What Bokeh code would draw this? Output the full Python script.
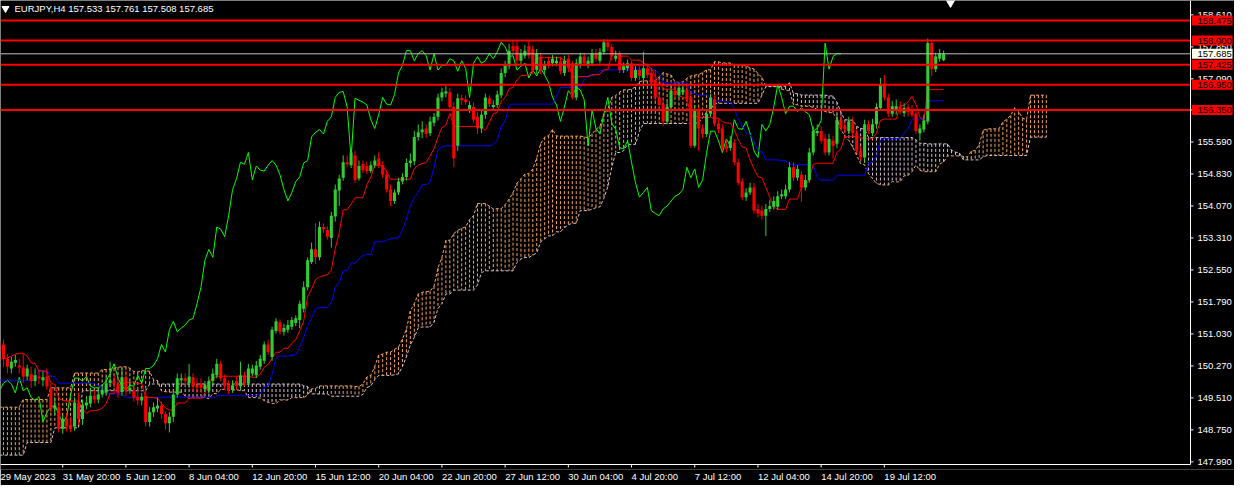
import numpy as np
from bokeh.plotting import figure
from bokeh.models import Range1d, FixedTicker, ColumnDataSource
from bokeh.core.properties import value
from bokeh.embed import file_html
from bokeh.resources import INLINE

open_ = [
150.85,150.78,150.44,150.21,150.34,150.28,150.23,150.02,150.07,149.91,
150.02,149.93,150.02,149.75,149.26,149.29,148.78,149.01,148.87,148.83,
149.40,149.01,149.33,149.38,149.56,149.47,149.59,149.63,149.86,149.91,
149.84,149.65,150.00,149.70,149.68,149.54,149.45,149.56,148.94,149.17,
149.26,149.33,149.13,148.91,149.06,149.59,149.93,149.98,149.86,150.00,
149.81,149.86,149.72,149.68,149.91,150.05,150.32,149.98,149.81,149.70,
149.91,149.79,150.05,149.86,150.09,150.05,150.25,150.39,150.78,150.48,
151.10,151.31,151.08,151.13,151.20,151.29,151.36,151.63,152.14,152.74,
153.04,152.85,153.57,153.50,153.31,153.82,154.44,154.74,155.11,155.04,
155.27,154.72,155.06,155.02,154.90,155.04,155.20,155.04,154.81,154.46,
154.19,154.39,154.65,154.76,155.09,155.13,155.71,155.82,155.91,155.80,
156.05,156.19,156.65,156.74,156.77,156.42,155.50,156.63,156.60,156.35,
156.42,156.19,155.91,156.24,156.63,156.42,156.47,156.70,157.23,157.39,
157.87,157.87,157.52,157.64,157.87,157.80,157.30,157.62,157.30,157.52,
157.46,157.46,157.50,157.23,157.57,157.46,156.65,157.43,157.62,157.41,
157.46,157.69,157.52,157.73,157.96,157.85,157.57,157.69,157.30,157.34,
157.46,157.11,157.30,157.11,157.34,157.23,157.06,156.65,156.49,156.08,
156.42,156.81,156.70,156.77,156.83,156.65,155.50,156.35,155.91,155.78,
156.26,156.60,156.03,155.91,155.50,155.45,155.57,155.11,154.65,154.28,
154.39,154.51,154.00,153.96,153.84,154.00,154.05,154.05,154.30,154.30,
154.46,154.99,154.74,154.81,154.51,154.69,155.34,155.80,155.85,155.68,
155.34,155.62,155.55,156.12,155.96,155.85,156.08,155.80,155.38,155.22,
156.01,155.80,156.01,156.40,156.95,156.65,156.26,156.35,156.44,156.28,
156.42,156.35,156.26,155.80,155.89,156.08,157.94,157.32,157.57,157.533]

high = [
150.94,150.90,150.55,150.48,150.53,150.44,150.55,150.30,150.25,150.21,
150.16,150.14,150.21,149.84,149.52,149.40,149.10,149.15,149.06,149.52,
149.63,149.47,149.56,149.75,149.68,149.75,149.84,150.02,150.37,150.09,
149.98,150.21,150.16,149.93,149.79,149.70,149.63,149.75,149.29,149.40,
149.52,149.42,149.19,149.17,149.70,150.09,150.09,150.09,150.32,150.09,
149.98,149.98,149.91,150.02,150.21,150.44,150.39,150.07,149.93,149.93,
150.02,150.37,150.14,150.32,150.30,150.39,150.53,150.85,150.90,151.20,
151.40,151.38,151.27,151.36,151.43,151.47,151.82,152.28,152.85,153.20,
153.66,153.70,153.66,153.59,153.93,154.58,154.81,155.27,155.27,155.45,
155.38,155.15,155.15,155.13,155.13,155.27,155.34,155.13,154.92,154.58,
154.46,154.74,154.85,155.20,155.32,155.85,156.01,156.08,156.01,156.19,
156.28,156.74,156.88,156.93,156.88,156.54,156.74,156.72,156.70,156.56,
156.54,156.31,156.33,156.74,156.70,156.58,156.81,157.34,157.52,157.92,
157.99,157.99,157.80,157.89,157.99,157.89,157.80,157.71,157.52,157.62,
157.66,157.62,157.62,157.64,157.66,157.52,157.57,157.71,157.71,157.62,
157.80,157.80,157.82,158.03,158.03,157.92,157.76,157.76,157.48,157.55,
157.52,157.39,157.39,157.73,157.43,157.34,157.30,156.74,156.65,156.54,
156.93,156.93,156.97,156.93,156.93,156.77,156.47,156.42,156.01,156.37,
156.74,156.70,156.14,156.01,155.62,155.73,155.66,155.20,154.74,154.49,
154.62,154.62,154.12,154.07,154.12,154.21,154.30,154.42,154.46,154.58,
155.11,155.11,155.04,154.90,154.81,155.45,155.96,156.01,155.96,155.78,
155.78,155.73,156.24,156.24,156.08,156.19,156.19,155.89,155.50,156.12,
156.10,156.14,156.51,157.11,157.18,156.74,156.56,156.60,156.56,156.51,
156.49,156.47,156.35,156.01,156.24,158.05,158.01,157.71,157.80,157.761]

low = [
150.53,150.25,150.09,150.09,150.25,150.09,149.86,149.93,149.75,149.79,
149.84,149.79,149.70,149.17,149.10,148.69,148.66,148.71,148.69,148.73,
148.87,148.87,149.24,149.29,149.38,149.38,149.52,149.56,149.79,149.75,
149.52,149.56,149.56,149.61,149.42,149.33,149.33,148.83,148.83,149.06,
149.17,149.01,148.76,148.69,148.94,149.52,149.84,149.79,149.75,149.65,
149.63,149.63,149.65,149.61,149.84,149.98,149.91,149.70,149.61,149.63,
149.70,149.70,149.79,149.79,150.02,149.98,150.18,150.32,150.53,150.39,
151.04,151.01,150.99,151.06,151.13,151.22,151.17,151.54,152.07,152.69,
152.69,152.78,153.43,153.27,153.08,153.70,154.07,154.67,154.99,154.97,
154.62,154.67,154.85,154.83,154.85,154.97,154.97,154.74,154.39,154.07,
154.12,154.33,154.58,154.67,154.99,155.04,155.62,155.68,155.68,155.73,
155.96,156.10,156.56,156.65,156.33,154.99,155.38,156.47,156.47,156.28,
156.05,155.78,155.80,156.14,156.42,156.35,156.40,156.63,157.13,157.32,
157.66,157.43,157.43,157.57,157.57,157.20,157.20,157.20,157.20,157.34,
157.39,157.39,157.20,157.16,157.25,156.60,156.58,157.34,157.39,157.34,
157.39,157.50,157.46,157.66,157.76,157.52,157.50,157.23,157.23,157.27,
157.04,157.04,157.06,157.04,157.11,156.93,156.56,156.37,155.96,156.01,
156.37,156.63,156.63,156.70,156.54,155.45,155.45,155.38,155.68,155.71,
156.19,155.96,155.80,155.38,155.34,155.38,155.04,154.56,154.21,154.19,
154.33,153.89,153.80,153.75,153.36,153.93,153.98,153.98,154.23,154.23,
154.39,154.67,154.67,154.16,154.44,154.62,155.27,155.73,155.55,155.27,
155.27,155.20,155.45,155.85,155.80,155.78,155.73,155.32,155.15,155.09,
155.78,155.73,155.91,156.33,156.58,156.19,156.19,156.24,156.24,156.19,
156.19,156.17,155.78,155.62,155.82,156.01,157.16,157.25,157.50,157.508]

close = [
150.62,150.44,150.25,150.37,150.41,150.23,150.02,150.21,149.91,150.05,
149.98,150.00,149.79,149.26,149.33,148.78,149.01,148.83,148.78,149.40,
149.01,149.35,149.40,149.56,149.47,149.59,149.68,149.86,149.93,149.84,
149.63,150.00,149.68,149.75,149.52,149.45,149.54,148.94,149.17,149.29,
149.33,149.13,148.91,149.06,149.59,149.98,149.98,149.91,150.02,149.79,
149.75,149.75,149.81,149.91,150.09,150.32,149.98,149.79,149.70,149.81,
149.79,150.05,149.86,150.21,150.21,150.28,150.44,150.78,150.60,151.13,
151.33,151.08,151.17,151.24,151.36,151.40,151.75,152.14,152.78,153.04,
152.85,153.57,153.52,153.34,153.84,154.46,154.72,155.11,155.06,155.34,
154.69,155.02,154.92,154.90,155.04,155.15,155.04,154.81,154.46,154.19,
154.39,154.65,154.76,155.09,155.15,155.71,155.82,155.89,155.78,156.08,
156.19,156.65,156.77,156.79,156.42,155.20,156.63,156.58,156.54,156.47,
156.12,155.91,156.24,156.65,156.49,156.47,156.72,157.23,157.41,157.76,
157.76,157.52,157.69,157.76,157.64,157.30,157.69,157.30,157.41,157.41,
157.57,157.52,157.27,157.52,157.34,156.65,157.46,157.62,157.46,157.52,
157.69,157.57,157.73,157.96,157.85,157.62,157.64,157.30,157.39,157.46,
157.11,157.30,157.16,157.34,157.18,157.00,156.65,156.47,156.08,156.42,
156.81,156.70,156.88,156.83,156.60,155.50,156.35,155.91,155.78,156.26,
156.65,156.03,155.89,155.45,155.43,155.62,155.11,154.62,154.28,154.39,
154.51,153.96,153.89,153.84,154.00,154.07,154.19,154.30,154.35,154.46,
154.99,154.74,154.95,154.51,154.69,155.34,155.85,155.85,155.62,155.34,
155.66,155.50,156.12,155.91,155.89,156.08,155.80,155.38,155.22,156.01,
155.85,156.01,156.42,156.95,156.65,156.26,156.44,156.44,156.31,156.40,
156.31,156.24,155.85,155.91,156.10,157.94,157.32,157.62,157.69,157.685]

# indicator values before enough history is visible
tenkan_early = [150.44,150.44,150.46,150.50,150.55,150.57,150.57,150.50]
kijun_early = [149.93,149.93,149.93,149.93,149.93,149.93,149.93,149.93,149.93,149.93,
               150.16,150.16,150.16,150.02,150.02,
               149.86,149.86,149.86,149.86,149.86,149.86,149.86,149.86,149.86,149.86]
span_a_early = [149.29,149.29,149.29,149.29,149.29,149.29,
                149.47,149.47,149.47,149.47,149.47,149.47,149.47,
                149.75,149.75,149.75,149.75,149.75,149.75,
                150.10,150.10,150.10,150.10,150.10,150.10,150.10]
span_b_early = [148.15,148.15,148.15,148.15,148.15,148.15,148.15,
                148.45,148.45,148.45,148.45,148.45,148.45,148.45,
                148.80,148.80,148.80,148.80,148.80,148.80,148.80,
                149.68,149.68,149.68,149.68,149.68,149.68,149.68,149.68,149.68,
                149.68,149.68,149.68,149.68,149.68,149.68,149.68,149.68,
                149.84,149.84,149.84,149.84,149.84,149.84,149.84,149.84,149.84,149.84,
                149.84,149.84,149.84,149.84,149.84,149.84,149.84,149.84,149.84,149.84,
                149.84,149.84,149.84,149.84,149.84,149.84,149.84,149.84,149.84,149.84,
                149.84,149.84,149.84,149.84,149.84,149.84,149.84,149.84,149.84]

levels = [158.475, 158.000, 157.425, 156.950, 156.350]
bid = 157.685
y_ticks = [147.990, 148.750, 149.510, 150.270, 151.030, 151.790, 152.550, 153.310,
           154.070, 154.830, 155.590, 156.350, 157.090, 157.850, 158.610]
x_tick_bars = [0.25, 16, 32, 48, 64, 80, 96, 112, 128, 144, 160, 176, 192, 208, 224]
x_tick_labels = ["29 May 2023", "31 May 20:00", "5 Jun 12:00", "8 Jun 04:00", "12 Jun 20:00",
                 "15 Jun 12:00", "20 Jun 04:00", "22 Jun 20:00", "27 Jun 12:00", "30 Jun 04:00",
                 "4 Jul 20:00", "7 Jul 12:00", "12 Jul 04:00", "14 Jul 20:00", "19 Jul 12:00"]
title_text = "EURJPY,H4  157.533 157.761 157.508 157.685"

# ---------- derived ----------
o = np.array(open_, float); h = np.array(high, float)
l = np.array(low, float); c = np.array(close, float)
h = np.maximum(h, np.maximum(o, c)); l = np.minimum(l, np.minimum(o, c))
n = len(c)
idx = np.arange(n)

tenkan = np.array([tenkan_early[i] if i < 8 else (h[i-8:i+1].max() + l[i-8:i+1].min()) / 2 for i in range(n)])
kijun = np.array([kijun_early[i] if i < 25 else (h[i-25:i+1].max() + l[i-25:i+1].min()) / 2 for i in range(n)])
m = n + 26
pos = np.arange(m)
span_a = np.array([span_a_early[q] if q < 26 else (tenkan[q-26] + kijun[q-26]) / 2 for q in range(m)])
span_b = np.array([span_b_early[q] if q < 77 else (h[q-77:q-25].max() + l[q-77:q-25].min()) / 2 for q in range(m)])

# ---------- layout ----------
FONT = "Liberation Sans"
FS = "9.5px"
FW, FH = 1234, 469            # frame (chart + right price scale + time tick marks)
CW, CH = 1190, 464            # chart area inside the frame
X0, XA = 0.25, 301.5          # chart x extent in bar units (XA = price scale line)
YC, Y1 = 147.928, 158.952     # chart y extent in price
PXU = CW / (XA - X0)          # pixels per bar
PYU = CH / (Y1 - YC)          # pixels per price unit
X1 = X0 + FW / PXU
Y0 = Y1 - FH / PYU

p = figure(frame_width=FW, frame_height=FH, x_range=Range1d(X0, X1), y_range=Range1d(Y0, Y1),
           output_backend="svg", toolbar_location=None, y_axis_location=None,
           background_fill_color="black", border_fill_color="black", outline_line_color=None,
           min_border_left=0, min_border_top=0, min_border_right=0, min_border_bottom=16)
p.grid.visible = False

# cloud hatch
kumo_col = np.where(span_a >= span_b, "#F4A460", "#D8BFD8")
ksrc = ColumnDataSource(dict(x=pos, top=np.maximum(span_a, span_b), bot=np.minimum(span_a, span_b), col=kumo_col))
p.segment(x0="x", y0="top", x1="x", y1="bot", line_color="col", line_width=1, line_dash="3 2", source=ksrc)
p.line(pos, span_a, line_color="#F4A460", line_width=1, line_dash="3 2")
p.line(pos, span_b, line_color="#D8BFD8", line_width=1, line_dash="3 2")

# chikou, kijun, tenkan
p.line(idx[:n-26], c[26:], line_color="#00FF00", line_width=1)
p.line(idx, kijun, line_color="#0000FF", line_width=1)
p.line(idx, tenkan, line_color="#FF0000", line_width=1)

# candles
ccol = np.where(c >= o, "#32CD32", "#FF0000")
top = np.maximum(o, c); bot = np.minimum(o, c)
top = np.where(top - bot < 0.025, bot + 0.025, top)
csrc = ColumnDataSource(dict(x=idx, h=h, l=l, top=top, bot=bot, col=ccol))
p.segment(x0="x", y0="h", x1="x", y1="l", line_color="col", line_width=1, source=csrc)
p.vbar(x="x", width=0.78, top="top", bottom="bot", fill_color="col", line_color=None, source=csrc)

# horizontal levels and bid line (end at the price scale)
p.segment(x0=[X0] * len(levels), y0=levels, x1=[XA] * len(levels), y1=levels, line_color="#FF0000", line_width=2)
p.segment(x0=[X0], y0=[bid], x1=[XA], y1=[bid], line_color="#C0C0C0", line_width=1)

# price scale (right) and time scale line, drawn in the frame
p.segment(x0=[XA], y0=[YC], x1=[XA], y1=[Y1], line_color="white", line_width=1)
p.segment(x0=[X0], y0=[YC], x1=[XA], y1=[YC], line_color="white", line_width=1)
p.segment(x0=[XA] * len(y_ticks), y0=y_ticks, x1=[XA + 3 / PXU] * len(y_ticks), y1=y_ticks,
          line_color="white", line_width=1)
p.text(x=[XA + 7 / PXU] * len(y_ticks), y=y_ticks, text=[f"{t:.3f}" for t in y_ticks],
       text_color="white", text_font=value(FONT), text_font_size=value(FS),
       text_align="left", text_baseline="middle")
tb = x_tick_bars[1:]
p.segment(x0=tb, y0=[YC] * len(tb), x1=tb, y1=[YC - 3 / PYU] * len(tb), line_color="white", line_width=1)

box_l, box_r = XA + 1.5 / PXU, XA + 42 / PXU
bh = 5 / PYU
box_y = levels + [bid]
box_fill = ["#FF0000"] * len(levels) + ["#FFFFF0"]
p.quad(left=[box_l] * len(box_y), right=[box_r] * len(box_y), top=[v + bh for v in box_y],
       bottom=[v - bh for v in box_y], fill_color=box_fill, line_color=None)
p.text(x=[XA + 7 / PXU] * len(box_y), y=box_y, text=[f"{v:.3f}" for v in box_y],
       text_color="black", text_font=value(FONT), text_font_size=value(FS),
       text_align="left", text_baseline="middle")

# title and markers
p.scatter(x=[X0 + 5 / PXU], y=[Y1 - 8 / PYU], marker="inverted_triangle", size=7, color="white")
p.text(x=[X0 + 14 / PXU], y=[Y1 - 2 / PYU], text=[title_text], text_color="white",
       text_font=value(FONT), text_font_size=value(FS), text_align="left", text_baseline="top")
p.scatter(x=[n + 0.75], y=[Y1], marker="inverted_triangle", size=12, color="white")

# time axis: left-aligned labels (label centre = tick + half the text width)
AW = {'0': .556, '1': .556, '2': .556, '3': .556, '4': .556, '5': .556, '6': .556, '7': .556,
      '8': .556, '9': .556, ' ': .278, ':': .278, 'M': .833, 'a': .556, 'y': .5, 'J': .5,
      'u': .556, 'n': .556, 'l': .222}
def text_px(s):
    return sum(AW.get(ch, .556) for ch in s) * 9.5
lab_pos = [b + text_px(s) / 2 / PXU for b, s in zip(x_tick_bars, x_tick_labels)]
xa = p.xaxis[0]
xa.ticker = FixedTicker(ticks=lab_pos)
xa.major_label_overrides = {k: v for k, v in zip(lab_pos, x_tick_labels)}
xa.axis_line_color = None
xa.major_tick_line_color = None
xa.minor_tick_line_color = None
xa.major_tick_out = 0
xa.major_tick_in = 0
xa.major_label_text_color = "white"
xa.major_label_text_font = FONT
xa.major_label_text_font_size = FS
xa.major_label_standoff = 1

open("out.html", "w").write(file_html(p, INLINE))
